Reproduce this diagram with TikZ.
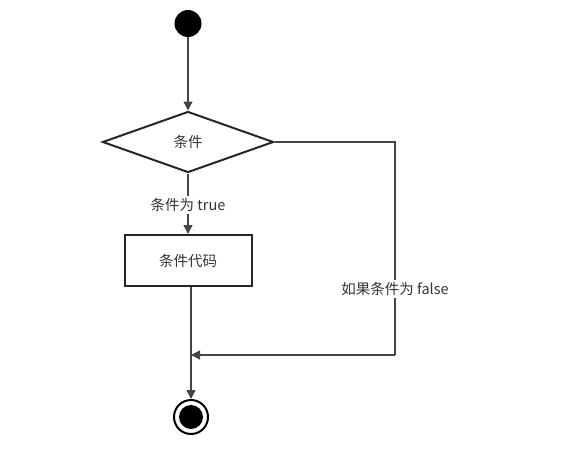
\documentclass[tikz,border=0pt]{standalone}
\usepackage{fontspec}
\setmainfont{Noto Sans CJK SC}
\usetikzlibrary{shapes.geometric,arrows.meta}
\definecolor{ln}{HTML}{444444}
\definecolor{tx}{HTML}{333333}
\begin{document}
\begin{tikzpicture}[x=1pt,y=-1pt,
  every node/.style={font=\fontsize{14.5}{17}\selectfont, text=tx},
  conn/.style={draw=ln, line width=1.3pt, -{Triangle[length=9pt,width=9pt]}},
  plain/.style={draw=ln, line width=1.3pt},
  lbl/.style={fill=white, inner sep=2pt}]
\useasboundingbox (0,0) rectangle (563,458);
\node[circle, fill=black, minimum size=27pt, inner sep=0pt] (start) at (188,23.5) {};
\node[diamond, draw=black!85, line width=2pt, minimum width=171pt, minimum height=61pt, inner sep=0pt, aspect=2.8] (cond) at (188,142) {条件};
\node[rectangle, draw=black!85, line width=2pt, minimum width=127pt, minimum height=51pt, inner sep=0pt] (code) at (188,260.5) {条件代码};
\node[circle, draw=black, line width=2pt, minimum size=34pt, inner sep=0pt] (stop) at (191,417) {};
\node[circle, fill=black, minimum size=24pt, inner sep=0pt] at (stop) {};
\coordinate (rc) at (395,142);
\coordinate (rb) at (395,355);
\coordinate (join) at (191,355);
\draw[conn] (start) -- (cond.north);
\draw[conn] (cond.south) -- node[lbl, pos=0.52] (tlbl) {条件为 true} (code.north);
\draw[plain] (cond.east) -- (rc) -- node[lbl, pos=0.69] (flbl) {如果条件为 false} (rb);
\draw[conn] (rb) -- (join);
\draw[conn] (code.south -| stop.north) -- (stop.north);
\end{tikzpicture}
\end{document}
